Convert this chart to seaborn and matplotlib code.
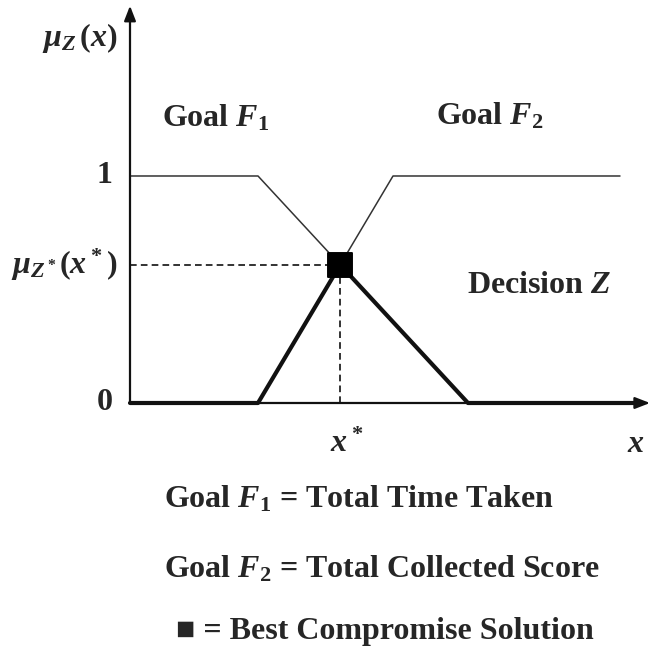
import pandas as pd
import matplotlib.pyplot as plt
import seaborn as sns

# Membership functions (x = decision variable, mu = membership degree)
f1_x = [0.0, 1.28, 3.38]
f1_mu = [1.0, 1.0, 0.0]
f2_x = [1.28, 2.63, 4.90]
f2_mu = [0.0, 1.0, 1.0]
x_axis_end = 5.2
y_axis_end = 1.75
z_end = 5.1

# Best compromise = crossing of the two sloped segments
s1 = (f1_mu[2] - f1_mu[1]) / (f1_x[2] - f1_x[1])
s2 = (f2_mu[1] - f2_mu[0]) / (f2_x[1] - f2_x[0])
x_star = (f2_x[0] * s2 - f1_x[1] * s1 + f1_mu[1] - f2_mu[0]) / (s2 - s1)
mu_star = f2_mu[0] + s2 * (x_star - f2_x[0])

# Decision Z = min(F1, F2)
z = pd.DataFrame({"x": [0.0, f1_x[1], x_star, f1_x[2], z_end],
                  "mu": [0.0, 0.0, mu_star, 0.0, 0.0]})

sns.set_style("white")
plt.rcParams["font.family"] = ["Liberation Serif", "DejaVu Serif"]
plt.rcParams["font.weight"] = "bold"
plt.rcParams["mathtext.fontset"] = "custom"
plt.rcParams["mathtext.rm"] = "Liberation Serif:bold"
plt.rcParams["mathtext.it"] = "Liberation Serif:italic:bold"
plt.rcParams["mathtext.bf"] = "Liberation Serif:bold"

fig = plt.figure(figsize=(6.52, 6.51), dpi=100)
ax = fig.add_axes([0, 0, 1, 1])
ax.set_xlim(-1.30, 5.22)
ax.set_ylim(-1.0925, 1.7753)
ax.axis("off")

ink = "#111111"
fs = 23

# axes with arrows
ax.annotate("", xy=(x_axis_end, 0), xytext=(0, 0),
            arrowprops=dict(arrowstyle="-|>,head_length=0.9,head_width=0.35",
                            color=ink, lw=1.6, shrinkA=0, shrinkB=0))
ax.annotate("", xy=(0, y_axis_end), xytext=(0, 0),
            arrowprops=dict(arrowstyle="-|>,head_length=0.9,head_width=0.35",
                            color=ink, lw=1.6, shrinkA=0, shrinkB=0))

# goals (thin) and decision (thick)
sns.lineplot(x=f1_x, y=f1_mu, sort=False, color="#333333", lw=1.1, ax=ax)
sns.lineplot(x=f2_x, y=f2_mu, sort=False, color="#333333", lw=1.1, ax=ax)
sns.lineplot(data=z, x="x", y="mu", sort=False, color=ink, lw=3.0, ax=ax)

# dashed guides to the compromise point
ax.plot([0, x_star], [mu_star, mu_star], ls=(0, (4, 2.5)), color=ink, lw=1.2)
ax.plot([x_star, x_star], [0, mu_star], ls=(0, (4, 2.5)), color=ink, lw=1.2)
sns.scatterplot(x=[x_star], y=[mu_star], marker="s", s=300, color="black",
                edgecolor="black", zorder=5, ax=ax)

# labels
ax.text(-0.50, 1.608, r"$\mu_Z\,(x)$", fontsize=fs, ha="center", va="center")
ax.text(-0.255, 1.0, "1", fontsize=fs, ha="center", va="center")
ax.text(-0.255, 0.0, "0", fontsize=fs, ha="center", va="center")
ax.text(-0.66, mu_star, r"$\mu_{Z^*}(x^*)$", fontsize=fs, ha="center", va="center")
ax.text(0.855, 1.22, r"Goal $F_1$", fontsize=fs, ha="center", va="baseline")
ax.text(3.60, 1.225, r"Goal $F_2$", fontsize=fs, ha="center", va="baseline")
ax.text(4.09, 0.485, r"Decision $Z$", fontsize=fs, ha="center", va="baseline")
ax.text(x_star + 0.07, -0.216, r"$x^*$", fontsize=fs, ha="center", va="baseline")
ax.text(5.06, -0.216, r"$x$", fontsize=fs, ha="center", va="baseline")

fig.text(0.55, 1 - 507 / 651, r"Goal $F_1$ = Total Time Taken",
         fontsize=fs, ha="center", va="baseline")
fig.text(0.585, 1 - 577 / 651, r"Goal $F_2$ = Total Collected Score",
         fontsize=fs, ha="center", va="baseline")
fig.text(0.59, 1 - 639 / 651, "\u25a0 = Best Compromise Solution",
         fontsize=fs, ha="center", va="baseline")

fig.savefig("out.png", dpi=100)
